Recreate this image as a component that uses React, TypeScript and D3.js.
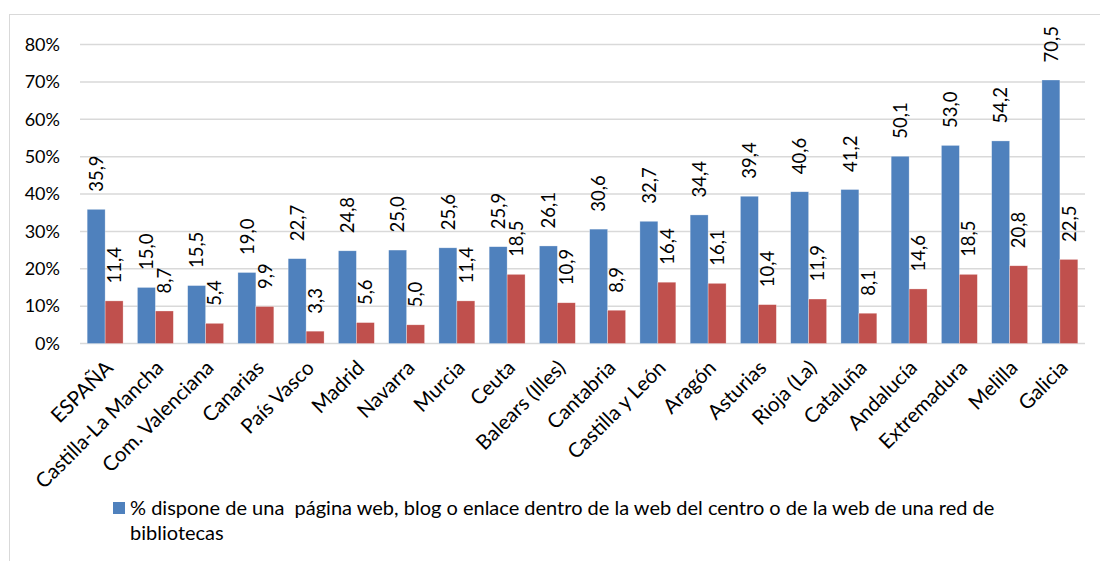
import React from "react";
import { scaleBand, scaleLinear } from "d3";

const categories = [
  "ESPAÑA", "Castilla-La Mancha", "Com. Valenciana", "Canarias", "País Vasco",
  "Madrid", "Navarra", "Murcia", "Ceuta", "Balears (Illes)", "Cantabria",
  "Castilla y León", "Aragón", "Asturias", "Rioja (La)", "Cataluña",
  "Andalucía", "Extremadura", "Melilla", "Galicia",
];
const webValues = [35.9, 15.0, 15.5, 19.0, 22.7, 24.8, 25.0, 25.6, 25.9, 26.1, 30.6, 32.7, 34.4, 39.4, 40.6, 41.2, 50.1, 53.0, 54.2, 70.5];
const otherValues = [11.4, 8.7, 5.4, 9.9, 3.3, 5.6, 5.0, 11.4, 18.5, 10.9, 8.9, 16.4, 16.1, 10.4, 11.9, 8.1, 14.6, 18.5, 20.8, 22.5];
const yTicks = [0, 10, 20, 30, 40, 50, 60, 70, 80];
const legendLines = [
  "% dispone de una  página web, blog o enlace dentro de la web del centro o de la web de una red de",
  "bibliotecas",
];

const W = 1100;
const H = 561;
const FONT = "Lato, 'Open Sans', sans-serif";
const BLUE = "#4F81BD";
const RED = "#C0504D";

export default function App() {
  const x = scaleBand<string>().domain(categories).range([80, 1085]).paddingInner(0.285).paddingOuter(0.1425);
  const y = scaleLinear().domain([0, 80]).range([343.5, 44.5]);
  const bw = x.bandwidth() / 2;
  const fmt = (v: number) => v.toFixed(1).replace(".", ",");

  const series = [
    { values: webValues, color: BLUE, off: 0 },
    { values: otherValues, color: RED, off: bw },
  ];

  return (
    <svg width={W} height={H} style={{ position: "absolute", left: 0, top: 0 }} fontFamily={FONT}>
      <rect x={0} y={0} width={W} height={H} fill="#fff" />
      <rect x={9.5} y={14.5} width={W} height={H} fill="none" stroke="#d9d9d9" />

      {/* grid + y axis */}
      {yTicks.map((t) => (
        <g key={t}>
          <line x1={80} x2={1085} y1={y(t)} y2={y(t)} stroke="#d9d9d9" strokeWidth={1.5} />
          <text x={60} y={y(t)} dy="0.35em" textAnchor="end" fontSize={18} fill="#000">{t}%</text>
        </g>
      ))}

      {/* bars */}
      {series.map((s, si) => (
        <g key={si}>
          {s.values.map((v, i) => {
            const bx = (x(categories[i]) as number) + s.off;
            return (
              <g key={i}>
                <rect x={bx} y={y(v)} width={bw} height={y(0) - y(v)} fill={s.color} stroke="#fff" strokeOpacity={0.5} strokeWidth={0.6} />
                <text
                  transform={`translate(${bx + bw / 2},${y(v) - 17.5}) rotate(-90)`}
                  dy="0.36em"
                  fontSize={18.5}
                  fill="#000"
                >
                  {fmt(v)}
                </text>
              </g>
            );
          })}
        </g>
      ))}

      {/* category labels */}
      {categories.map((c) => (
        <text
          key={c}
          transform={`translate(${(x(c) as number) + x.step() / 2 - 8},${359}) rotate(-45)`}
          dy="0.7em"
          textAnchor="end"
          fontSize={20.5}
          fill="#000"
        >
          {c}
        </text>
      ))}

      {/* legend */}
      <rect x={113} y={502} width={12} height={12} fill={BLUE} />
      {legendLines.map((l, i) => (
        <text key={i} x={130} y={508 + i * 25} dy="0.35em" fontSize={20} fill="#000" style={{ whiteSpace: "pre" }}>
          {l}
        </text>
      ))}
    </svg>
  );
}
